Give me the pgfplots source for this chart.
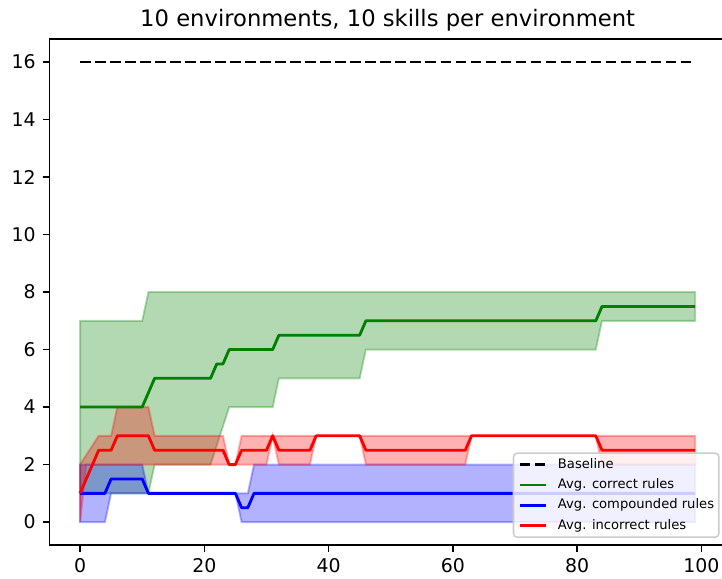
\documentclass[border=0pt]{standalone}
\usepackage{fontspec}
\setmainfont{DejaVu Sans}
\usepackage{pgfplots}
\pgfplotsset{compat=1.18}
\usepgfplotslibrary{fillbetween}
\definecolor{mplgreen}{rgb}{0,0.502,0}
\definecolor{legedge}{gray}{0.8}
\begin{document}
\begin{tikzpicture}
\begin{axis}[
  at={(0,0)}, anchor=south west,
  scale only axis, width=358.2pt, height=267.9pt,
  xmin=-4.95, xmax=103.95, ymin=-0.8, ymax=16.8,
  xtick={0,20,...,100}, ytick={0,2,...,16},
  tick align=outside, tick pos=left,
  major tick length=3.5pt,
  every tick/.style={black, line width=0.8pt},
  axis line style={line width=0.8pt},
  tick label style={font=\fontsize{10}{12}\selectfont, inner sep=0pt},
  xticklabel shift=3.5pt, yticklabel shift=3.5pt,
  /pgf/number format/assume math mode=true,
  title={10 environments, 10 skills per environment},
  title style={at={(0.5,1)}, anchor=base, yshift=0.8pt, font=\fontsize{12}{14}\selectfont},
  legend cell align=left,
  legend style={at={(1,0)}, anchor=south east, xshift=-3.3pt, yshift=3.8pt,
    draw=legedge, line width=0.8pt, rounded corners=2pt, fill=white, fill opacity=0.8, text opacity=1,
    font=\fontsize{6.94}{8}\selectfont, inner sep=2.6pt, row sep=3.75pt,
    nodes={inner sep=0pt, text height=5.3pt, text depth=1.7pt, anchor=west},
    /tikz/every odd column/.append style={column sep=5.55pt}},
  legend image code/.code={\draw[#1] (0pt,0pt) -- (13.9pt,0pt);},
]
% Baseline
\addplot[black, line width=1.5pt, dash pattern=on 5.55pt off 2.4pt] table[row sep=\\]{x y\\ 0 16\\ 99 16\\};
\addlegendentry{Baseline}
% Correct rules
\addplot[mplgreen, line width=1.5pt, line join=round] table[row sep=\\]{x y\\
0 4\\ 10 4\\ 11 4.5\\ 12 5\\ 21 5\\ 22 5.5\\ 23 5.5\\ 24 6\\ 31 6\\ 32 6.5\\ 45 6.5\\ 46 7\\ 83 7\\ 84 7.5\\ 99 7.5\\};
\addlegendentry{Avg. correct rules}
\addplot[draw=none, name path=gu, forget plot] table[row sep=\\]{x y\\ 0 7\\ 10 7\\ 11 8\\ 99 8\\};
\addplot[draw=none, name path=gl, forget plot] table[row sep=\\]{x y\\
0 1\\ 11 1\\ 12 2\\ 21 2\\ 22 2.67\\ 23 3.33\\ 24 4\\ 31 4\\ 32 5\\ 45 5\\ 46 6\\ 83 6\\ 84 7\\ 99 7\\};
\addplot[fill=mplgreen, draw=mplgreen, opacity=0.3, line width=1pt, forget plot] fill between[of=gu and gl];
% Compounded rules
\addplot[blue, line width=1.5pt, line join=round] table[row sep=\\]{x y\\
0 1\\ 4 1\\ 5 1.5\\ 10 1.5\\ 11 1\\ 25 1\\ 26 0.5\\ 27 0.5\\ 28 1\\ 99 1\\};
\addlegendentry{Avg. compounded rules}
\addplot[draw=none, name path=bu, forget plot] table[row sep=\\]{x y\\ 0 2\\ 10 2\\ 11 1\\ 27 1\\ 28 2\\ 99 2\\};
\addplot[draw=none, name path=bl, forget plot] table[row sep=\\]{x y\\ 0 0\\ 4 0\\ 5 1\\ 25 1\\ 26 0\\ 99 0\\};
\addplot[fill=blue, draw=blue, opacity=0.3, line width=1pt, forget plot] fill between[of=bu and bl];
% Incorrect rules
\addplot[red, line width=1.5pt, line join=round] table[row sep=\\]{x y\\
0 1\\ 3 2.5\\ 5 2.5\\ 6 3\\ 11 3\\ 12 2.5\\ 23 2.5\\ 24 2\\ 25 2\\ 26 2.5\\ 30 2.5\\ 31 3\\ 32 2.5\\ 37 2.5\\ 38 3\\ 45 3\\ 46 2.5\\ 62 2.5\\ 63 3\\ 83 3\\ 84 2.5\\ 99 2.5\\};
\addlegendentry{Avg. incorrect rules}
\addplot[draw=none, name path=ru, forget plot] table[row sep=\\]{x y\\
0 2\\ 3 3\\ 5 3\\ 6 4\\ 11 4\\ 12 3\\ 23 3\\ 24 2\\ 25 2\\ 26 3\\ 99 3\\};
\addplot[draw=none, name path=rl, forget plot] table[row sep=\\]{x y\\
0 0\\ 1 2\\ 30 2\\ 31 3\\ 32 2\\ 37 2\\ 38 3\\ 45 3\\ 46 2\\ 62 2\\ 63 3\\ 83 3\\ 84 2\\ 99 2\\};
\addplot[fill=red, draw=red, opacity=0.3, line width=1pt, forget plot] fill between[of=ru and rl];
\end{axis}
\pgfresetboundingbox
\useasboundingbox (-26.1pt,-17.47pt) rectangle (356.1pt,288.55pt);
\end{tikzpicture}
\end{document}
